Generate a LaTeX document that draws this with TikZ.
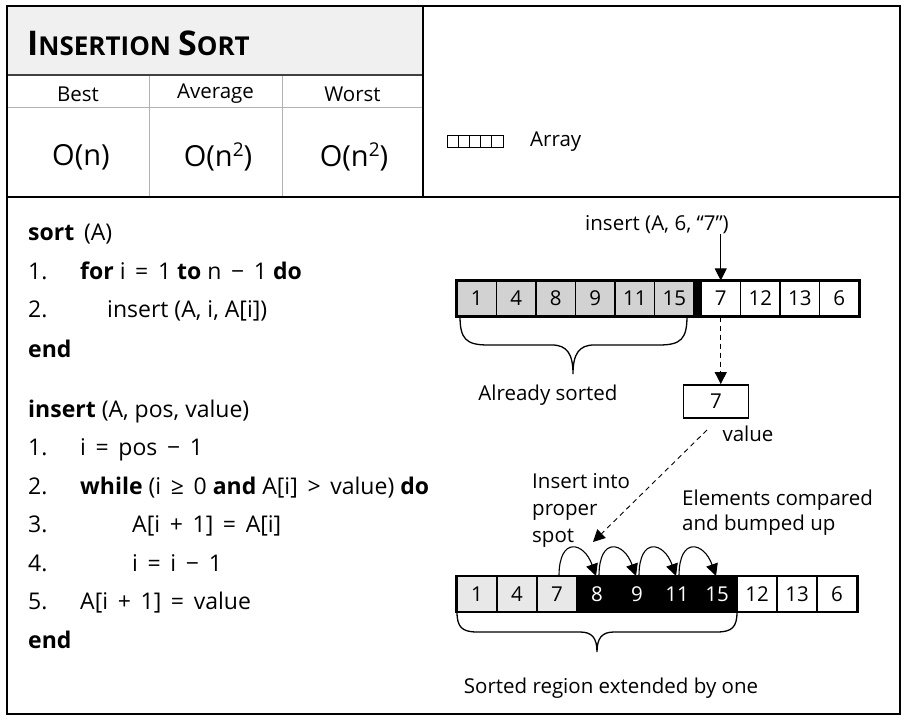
\documentclass[tikz,border=0pt]{standalone}
\usepackage{fontspec}
\setmainfont{Open Sans}
\usetikzlibrary{arrows.meta}

\newcommand{\codefont}{\fontsize{23}{26}\selectfont}
\newcommand{\labfont}{\fontsize{20.5}{27}\selectfont}
\newcommand{\titlecaps}[2]{{\fontsize{34}{34}\selectfont #1}{\fontsize{26}{26}\selectfont #2}}
\newcommand{\op}[1]{\hspace{0.42em}#1\hspace{0.42em}}
\newcommand{\sq}{\raisebox{0.6ex}{\fontsize{19}{19}\selectfont 2}}

\tikzset{
  code/.style={anchor=base west, inner sep=0pt, font=\codefont},
  lab/.style={inner sep=0pt, font=\labfont},
  cell/.style={draw, line width=1.1pt, minimum width=40pt, minimum height=35pt, inner sep=0pt, font=\fontsize{20.5}{20.5}\selectfont},
  tcell/.style={cell, minimum width=39.5pt},
  old/.style={cell, fill=gray!18},
  moved/.style={cell, fill=black, text=white},
  arr/.style={line width=1.1pt, -{Triangle[length=12pt, width=12pt]}},
  dash arr/.style={arr, line width=0.9pt, dash pattern=on 5pt off 4pt},
  grid line/.style={gray!60, line width=1pt},
  brace line/.style={line width=1.3pt}
}

\begin{document}
\begin{tikzpicture}[x=1pt,y=1pt]
    \useasboundingbox (0,0) rectangle (909,720);

    % Title band and frame lines
    \fill[gray!12] (7,645) rectangle (423,714);
    \draw[grid line] (7,612) -- (423,612);
    \draw[grid line] (149,523) -- (149,645);
    \draw[grid line] (282,523) -- (282,645);
    \draw[line width=1.2pt, black!75] (7,645) -- (423,645);
    \draw[line width=1.5pt] (423,523) -- (423,714);
    \draw[line width=1.5pt] (7,523) -- (900,523);
    \draw[line width=2.2pt] (7,6) rectangle (900,714);

    % Title and complexity table
    \node[anchor=base west, inner sep=0pt, font=\bfseries] (title) at (27,664) {\titlecaps{I}{NSERTION}\hspace{7pt}\titlecaps{S}{ORT}};
    \node[lab] (best) at (78,626) {Best};
    \node[lab] (avg) at (215.5,626) {Average};
    \node[lab] (worst) at (352.5,626) {Worst};
    \node[font=\fontsize{29}{29}\selectfont] (obest) at (81,563) {O(n)};
    \node[font=\fontsize{29}{29}\selectfont] (oavg) at (218,563) {O(n\sq)};
    \node[font=\fontsize{29}{29}\selectfont] (oworst) at (354,563) {O(n\sq)};

    % Legend
    \foreach \k in {0,...,4}
        \draw[line width=1pt] (447+11.2*\k,572) rectangle +(11.2,12);
    \node[lab, anchor=west] (legend) at (530,578) {Array};

    % Pseudocode
    \node[code] (sort) at (28,479) {\textbf{sort}\, (A)};
    \node[code] (sn1) at (28,440) {1.};
    \node[code] (s1) at (80,440) {\textbf{for} i\op{=}1 \textbf{to} n\op{−}1 \textbf{do}};
    \node[code] (sn2) at (28,402) {2.};
    \node[code] (s2) at (107,402) {insert (A, i, A[i])};
    \node[code] (send) at (28,362) {\textbf{end}};

    \node[code] (ins) at (28,302) {\textbf{insert} (A, pos, value)};
    \foreach \n/\y in {1/264,2/225,3/187,4/149,5/111}
        \node[code] (in\n) at (28,\y) {\n.};
    \node[code] (i1) at (80,264) {i\op{=}pos\op{−}1};
    \node[code] (i2) at (80,225) {\textbf{while} (i\op{≥}0 \textbf{and} A[i]\op{>}value) \textbf{do}};
    \node[code] (i3) at (132,187) {A[i\op{+}1]\op{=}A[i]};
    \node[code] (i4) at (132,149) {i\op{=}i\op{−}1};
    \node[code] (i5) at (80,111) {A[i\op{+}1]\op{=}value};
    \node[code] (iend) at (28,72) {\textbf{end}};

    % Array before the insert
    \foreach \v [count=\k from 0] in {1,4,8,9,11,15}
        \node[tcell, fill=gray!35] (t\k) at (476.75+39.5*\k,421.5) {\v};
    \foreach \v [count=\k from 6] in {7,12,13,6}
        \node[tcell] (t\k) at (720.75+39.5*\k-237,421.5) {\v};
    \fill (694,404) rectangle (701,439);
    \draw[line width=2pt] (t0.south west) rectangle (t9.north east);

    \node[lab] (call) at (657,495) {insert (A, 6, “7”)};
    \draw[arr] (t6.north |- call.south) -- (t6.north);

    % Already sorted brace
    \draw[brace line] (460,404) .. controls (460,381) and (466,375) .. (488,375) -- (552,375)
        .. controls (567,375) and (573,366) .. (573,346)
        .. controls (573,366) and (579,375) .. (594,375) -- (659,375)
        .. controls (681,375) and (687,381) .. (687,404);
    \node[lab] (already) at (548,325) {Already sorted};

    % Value taken out
    \node[cell, line width=1.8pt, minimum width=65pt, minimum height=33pt] (val) at (716,318.5) {7};
    \draw[dash arr] (t6.south) -- (t6.south |- val.north);
    \node[lab] (vallab) at (748,286) {value};

    % Array after the insert
    \foreach \v/\s [count=\k from 0] in {1/old,4/old,7/old,8/moved,9/moved,11/moved,15/moved,12/cell,13/cell,6/cell}
        \node[\s] (b\k) at (477+40*\k,126) {\v};
    \draw[line width=2pt] (b0.south west) rectangle (b9.north east);

    \coordinate (dstart) at (707,290);
    \coordinate (dend) at (593,178);
    \draw[dash arr] (dstart) -- (dend);

    % Bumped elements
    \foreach \k [evaluate=\k as \n using int(\k+1)] in {2,...,5}
        \draw[arr] ([xshift=2pt]b\k.north) .. controls +(0,40) and +(-12,34) .. ([xshift=-1pt]b\n.north);

    \node[lab, anchor=west, align=left] (spot) at (532,210) {Insert into\\proper\\spot};
    \node[lab, anchor=west, align=left, font=\fontsize{20.5}{25}\selectfont] (bump) at (682,207.5) {Elements compared\\and bumped up};

    % Sorted region brace
    \draw[brace line] (457,108) .. controls (457,93) and (462,88) .. (477,88) -- (580,88)
        .. controls (592,88) and (597,82) .. (597,68)
        .. controls (597,82) and (602,88) .. (614,88) -- (717,88)
        .. controls (732,88) and (737,93) .. (737,108);
    \node[lab] (region) at (611,32) {Sorted region extended by one};

\end{tikzpicture}
\end{document}
